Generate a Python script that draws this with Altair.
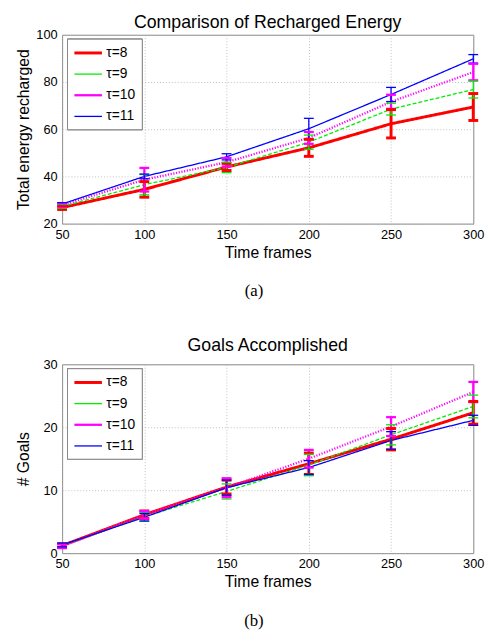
import altair as alt
import pandas as pd

frames = [50, 100, 150, 200, 250, 300]
series = ["τ=8", "τ=9", "τ=10", "τ=11"]
colors = ["#ff0000", "#00ee00", "#ff00ff", "#0000ff"]

# Panel (a): total energy recharged (mean, error half-width)
energy_t8 = [26.8, 34.5, 44.0, 52.1, 62.3, 69.4]
energy_t8_err = [0.8, 3.3, 1.5, 3.6, 6.0, 5.7]
energy_t9 = [27.3, 36.5, 43.8, 54.5, 68.5, 76.8]
energy_t9_err = [0.8, 4.3, 2.2, 3.0, 2.5, 3.6]
energy_t10 = [27.8, 38.6, 46.0, 56.3, 71.6, 84.2]
energy_t10_err = [0.8, 5.0, 1.8, 2.5, 3.0, 3.5]
energy_t11 = [28.3, 40.0, 48.3, 60.2, 74.7, 89.8]
energy_t11_err = [0.6, 1.0, 1.3, 4.4, 3.0, 1.8]

# Panel (b): goals accomplished
goals_t8 = [1.2, 6.1, 10.5, 14.2, 18.1, 22.3]
goals_t8_err = [0.3, 0.6, 1.1, 1.7, 1.7, 1.8]
goals_t9 = [1.2, 5.8, 9.8, 14.0, 18.8, 23.3]
goals_t9_err = [0.3, 0.7, 1.2, 1.7, 1.6, 1.8]
goals_t10 = [1.1, 6.1, 10.4, 15.0, 20.1, 25.6]
goals_t10_err = [0.3, 0.6, 1.5, 1.4, 1.5, 1.6]
goals_t11 = [1.3, 5.7, 10.4, 13.6, 17.9, 21.1]
goals_t11_err = [0.3, 0.6, 1.2, 1.1, 1.4, 0.8]

energy_ticks = [20, 40, 60, 80, 100]
goals_ticks = [0, 10, 20, 30]


def build(vals, errs):
    rows = []
    for s, v, e in zip(series, vals, errs):
        for f, a, b in zip(frames, v, e):
            rows.append({"frame": f, "series": s, "value": a, "lo": a - b, "hi": a + b})
    return pd.DataFrame(rows)


energy_df = build([energy_t8, energy_t9, energy_t10, energy_t11],
                  [energy_t8_err, energy_t9_err, energy_t10_err, energy_t11_err])
goals_df = build([goals_t8, goals_t9, goals_t10, goals_t11],
                 [goals_t8_err, goals_t9_err, goals_t10_err, goals_t11_err])

FONT = "Liberation Sans"


def panel(df, title, ytitle, ydomain, yvalues, caption, title_offset):
    leg = alt.Legend(title=None, orient="none", legendX=5, legendY=4,
                     symbolType="M-1,0H3", symbolSize=196, labelFontSize=14,
                     labelFont=FONT, labelColor="black", fillColor="white",
                     strokeColor="#888888", padding=6, rowPadding=6,
                     labelOffset=17, cornerRadius=0)
    color = alt.Color("series:N", scale=alt.Scale(domain=series, range=colors), legend=leg)
    dash = alt.StrokeDash("series:N",
                          scale=alt.Scale(type="ordinal", domain=series,
                                          range=[[1, 0], [4, 2], [1.2, 1.6], [1, 0]]),
                          legend=leg)
    sw = alt.StrokeWidth("series:N",
                         scale=alt.Scale(type="ordinal", domain=series, range=[3, 1.3, 2.3, 1.3]),
                         legend=leg)
    x = alt.X("frame:Q", scale=alt.Scale(domain=[50, 300], nice=False, zero=False),
              axis=alt.Axis(values=frames, title="Time frames", labelFlush=False))
    y = alt.Y("value:Q", scale=alt.Scale(domain=ydomain, nice=False, zero=False),
              axis=alt.Axis(values=yvalues, title=ytitle, minExtent=25, maxExtent=25,
                            labelFlush=False))
    base = alt.Chart(df)
    lines = base.mark_line().encode(x=x, y=y, color=color, strokeDash=dash, strokeWidth=sw)
    bars = base.mark_rule().encode(x="frame:Q", y="lo:Q", y2="hi:Q", color=color, strokeWidth=sw)
    cap_lo = base.mark_rule(xOffset=-5, x2Offset=5).encode(
        x="frame:Q", x2="frame:Q", y="lo:Q", color=color, strokeWidth=sw)
    cap_hi = base.mark_rule(xOffset=-5, x2Offset=5).encode(
        x="frame:Q", x2="frame:Q", y="hi:Q", color=color, strokeWidth=sw)
    cap = alt.Chart(pd.DataFrame({"c": [caption]})).mark_text(
        font="Liberation Serif", fontSize=17, color="black", baseline="middle", align="center"
    ).encode(text="c:N", x=alt.value(195), y=alt.value(261))
    return alt.layer(lines, bars, cap_lo, cap_hi, cap).properties(
        width=418, height=192,
        title=alt.TitleParams(title, fontSize=18, font=FONT, fontWeight="normal",
                              color="black", offset=title_offset)
    ).resolve_scale(color="independent", strokeDash="independent", strokeWidth="independent")


top = panel(energy_df, "Comparison of Recharged Energy", "Total energy recharged",
            [20, 100], energy_ticks, "(a)", -3)
bottom = panel(goals_df, "Goals Accomplished", "# Goals", [0, 30], goals_ticks, "(b)", 4)

chart = alt.vconcat(top, bottom, spacing=36).resolve_scale(
    color="independent", strokeDash="independent", strokeWidth="independent"
).resolve_legend(
    color="independent", strokeDash="independent", strokeWidth="independent"
).properties(
    padding={"left": 7, "top": 0, "right": 5, "bottom": 0}
).configure_view(
    stroke="#888888", strokeWidth=1
).configure_axis(
    labelFont=FONT, labelFontSize=13, labelColor="black",
    titleFont=FONT, titleFontSize=16, titleFontWeight="normal", titleColor="black",
    grid=True, gridColor="#b0b0b0", gridDash=[1, 2], gridWidth=0.8,
    domain=False, ticks=False, labelPadding=5
).configure_axisX(titlePadding=3).configure_axisY(titlePadding=6)

chart.save("out.html", embed_options={"renderer": "svg", "actions": False})
